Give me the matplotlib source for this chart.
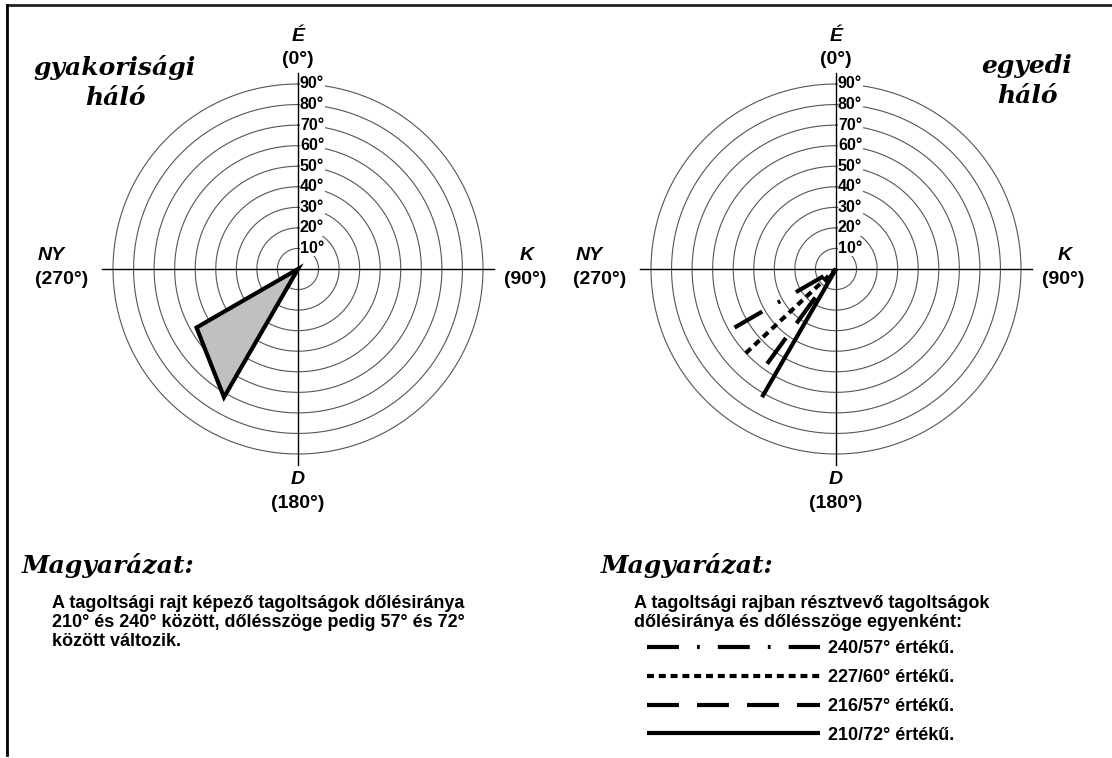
import numpy as np
import matplotlib.pyplot as plt

plt.rcParams['lines.scale_dashes'] = False
plt.rcParams['font.family'] = ['Liberation Sans', 'DejaVu Sans']

# ring values of the net (dip angle, degrees)
rings = [10, 20, 30, 40, 50, 60, 70, 80, 90]
ring_labels = ['10°', '20°', '30°', '40°', '50°', '60°', '70°', '80°', '90°']

# joint fan on the left net: apex at centre, then 240/57 and 210/72
fan_azimuth = [0, 240, 210]
fan_dip = [0, 57, 72]

# single joints on the right net
joint_azimuth = [240, 227, 216, 210]
joint_dip = [57, 60, 57, 72]
joint_labels = ['240/57° értékű.', '227/60° értékű.', '216/57° értékű.', '210/72° értékű.']
joint_styles = [(0, (23, 13, 2, 13)), (0, (5, 3.5)), (0, (23, 13)), '-']

W, H = 1112, 758
fig = plt.figure(figsize=(W / 100, H / 100), dpi=100)

R_PX = 185  # pixel radius of the 90 degree ring
CROSS = 95.5


def make_net(cx, cy):
    ax = fig.add_axes([(cx - R_PX) / W, (H - cy - R_PX) / H, 2 * R_PX / W, 2 * R_PX / H],
                      projection='polar')
    ax.set_theta_zero_location('N')
    ax.set_theta_direction(-1)
    ax.set_rlim(0, 90)
    ax.axis('off')
    t = np.linspace(0, 2 * np.pi, 361)
    for r in rings:
        ax.plot(t, np.full_like(t, r), color='#555555', lw=0.8, clip_on=False, zorder=1)
    for a in [0, 90, 180, 270]:
        ax.plot([np.radians(a)] * 2, [0, CROSS], color='black', lw=1.0, clip_on=False, zorder=3)
    for r, lab in zip(rings, ring_labels):
        ax.annotate(lab, xy=(0, r), xytext=(2, 0), textcoords='offset pixels',
                    ha='left', va='center', fontsize=11.5, fontweight='bold',
                    bbox=dict(facecolor='white', edgecolor='none', pad=0.2), zorder=2)
    dirs = [
        (0, 'É', (0, 36), 'italic'), (0, '(0°)', (0, 13), 'normal'),
        (180, 'D', (0, -14), 'italic'), (180, '(180°)', (0, -38), 'normal'),
        (270, 'NY', (-50, 14), 'italic'), (270, '(270°)', (-40, -11), 'normal'),
        (90, 'K', (32, 14), 'italic'), (90, '(90°)', (31, -11), 'normal'),
    ]
    for a, txt, off, st in dirs:
        ax.annotate(txt, xy=(np.radians(a), CROSS), xytext=off, textcoords='offset pixels',
                    ha='center', va='center', fontsize=14, fontweight='bold', fontstyle=st,
                    annotation_clip=False)
    return ax


ax1 = make_net(298, 269)
ax2 = make_net(836, 269)

ax1.fill(np.radians(fan_azimuth), fan_dip, facecolor='#c0c0c0', edgecolor='black',
         lw=3, joinstyle='miter', zorder=4)

handles = []
for az, dip, ls in zip(joint_azimuth, joint_dip, joint_styles):
    ln, = ax2.plot([np.radians(az)] * 2, [dip, 0], color='black', lw=3, ls=ls,
                   solid_capstyle='butt', dash_capstyle='butt', zorder=4)
    handles.append(ln)

fig.legend(handles, joint_labels, loc='upper left', bbox_to_anchor=(647 / W, 1 - 640 / H),
           frameon=False, handlelength=9.6, handletextpad=0.45, labelspacing=0.66,
           prop=dict(size=13, weight='bold'), borderaxespad=0, borderpad=0)

serif = dict(family='DejaVu Serif', fontweight='bold', fontstyle='italic')
fig.text(115 / W, 1 - 68 / H, 'gyakorisági', ha='center', va='center', fontsize=18, **serif)
fig.text(115 / W, 1 - 98 / H, 'háló', ha='center', va='center', fontsize=18, **serif)
fig.text(1027 / W, 1 - 66 / H, 'egyedi', ha='center', va='center', fontsize=18, **serif)
fig.text(1027 / W, 1 - 96 / H, 'háló', ha='center', va='center', fontsize=18, **serif)
fig.text(22 / W, 1 - 565 / H, 'Magyarázat:', ha='left', va='center', fontsize=18, **serif)
fig.text(601 / W, 1 - 565 / H, 'Magyarázat:', ha='left', va='center', fontsize=18, **serif)

fig.text(52 / W, 1 - 595 / H,
         'A tagoltsági rajt képező tagoltságok dőlésiránya\n'
         '210° és 240° között, dőlésszöge pedig 57° és 72°\n'
         'között változik.',
         ha='left', va='top', fontsize=13, fontweight='bold', linespacing=1.15)
fig.text(634 / W, 1 - 595 / H,
         'A tagoltsági rajban résztvevő tagoltságok\n'
         'dőlésiránya és dőlésszöge egyenként:',
         ha='left', va='top', fontsize=13, fontweight='bold', linespacing=1.15)

# frame lines at the top and left edge
fig.add_artist(plt.Line2D([7 / W, 1], [1 - 5 / H, 1 - 5 / H], color='#222222', lw=2))
fig.add_artist(plt.Line2D([7 / W, 7 / W], [1 - 5 / H, 1 - 755 / H], color='black', lw=2))

fig.savefig('out.png', dpi=100)
